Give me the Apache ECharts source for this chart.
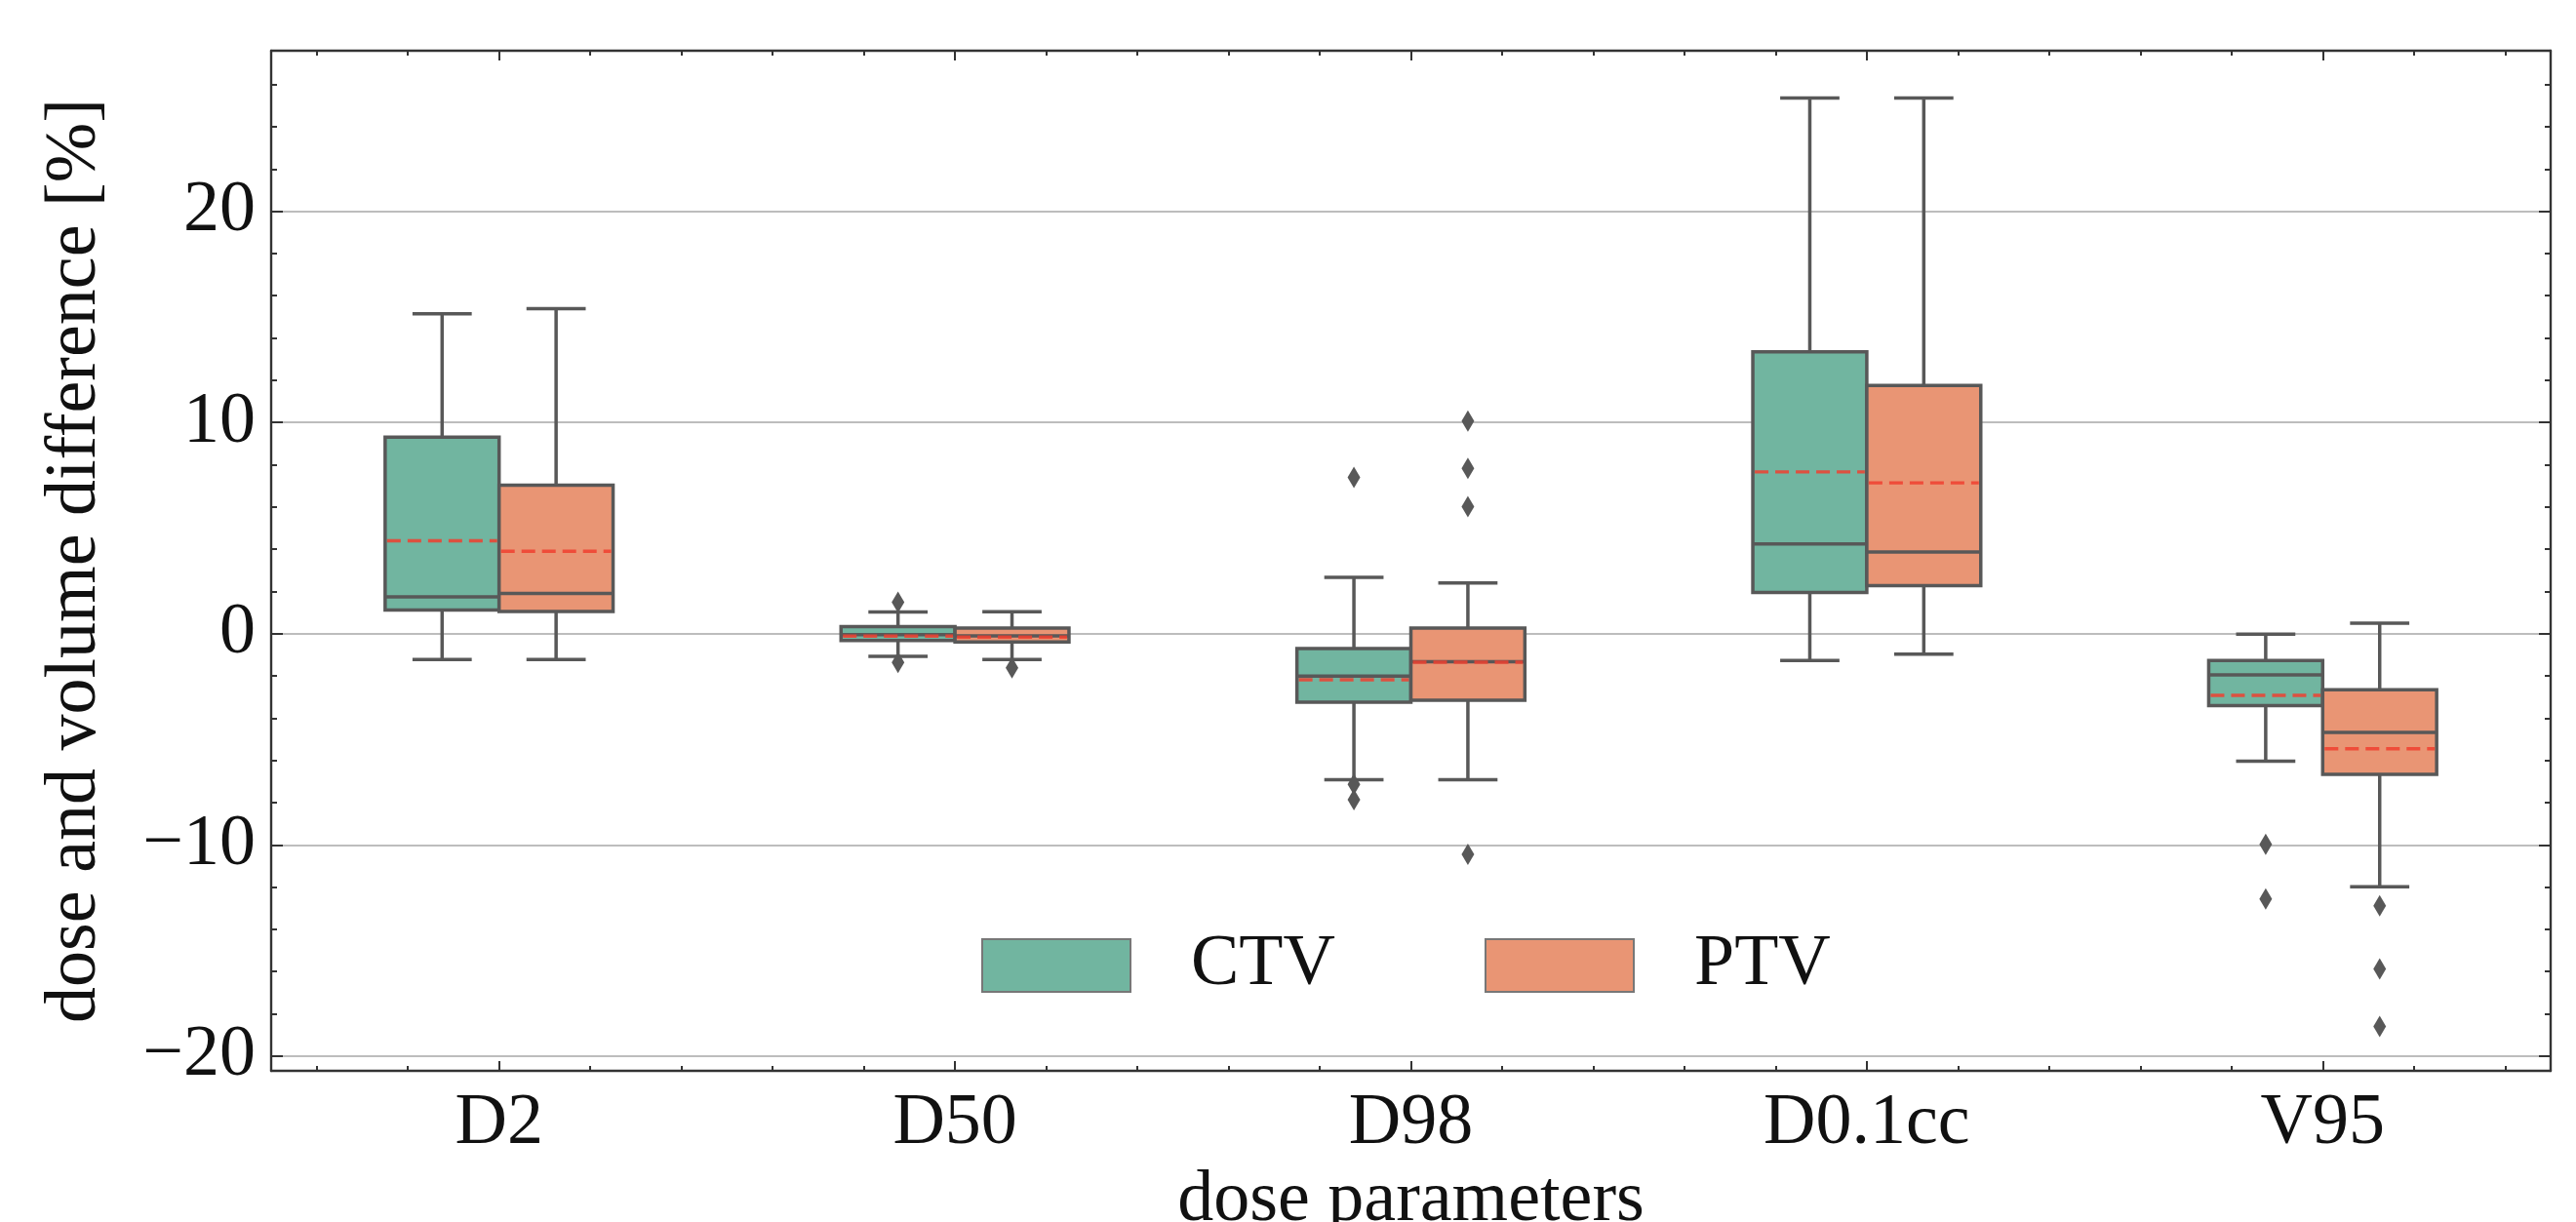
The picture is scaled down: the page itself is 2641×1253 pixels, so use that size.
<!DOCTYPE html>
<html>
<head>
<meta charset="utf-8">
<script src="https://cdn.jsdelivr.net/npm/echarts@6/dist/echarts.min.js"></script>
<style>html,body{margin:0;padding:0;background:#fff}</style>
</head>
<body>
<div id="chart" style="width:2641px;height:1253px"></div>
<script>
var categories = ['D2', 'D50', 'D98', 'D0.1cc', 'V95'];
// [lower whisker, Q1, median, Q3, upper whisker]
var ctvBox = [
  [-1.23, 1.12, 1.74, 9.30, 15.14],
  [-1.07, -0.33, -0.05, 0.33, 1.03],
  [-6.92, -3.25, -2.01, -0.71, 2.66],
  [-1.27, 1.95, 4.25, 13.34, 25.36],
  [-6.04, -3.41, -1.95, -1.27, -0.03]
];
var ptvBox = [
  [-1.23, 1.05, 1.90, 7.03, 15.39],
  [-1.23, -0.39, -0.10, 0.26, 1.04],
  [-6.92, -3.15, -1.33, 0.26, 2.40],
  [-0.97, 2.27, 3.86, 11.75, 25.36],
  [-11.98, -6.66, -4.68, -2.66, 0.49]
];
var ctvMean = [4.40, -0.12, -2.18, 7.66, -2.92];
var ptvMean = [3.90, -0.16, -1.35, 7.14, -5.45];
var ctvOutliers = [[], [1.49, -1.36], [7.40, -7.14, -7.86], [], [-9.97, -12.56]];
var ptvOutliers = [[], [-1.62], [10.06, 7.82, 6.01, -10.45], [], [-12.89, -15.88, -18.6]];

var yMajor = [-20, -10, 0, 10, 20];
var yMinor = [-18, -16, -14, -12, -8, -6, -4, -2, 2, 4, 6, 8, 12, 14, 16, 18, 22, 24, 26];
var xMajor = [0, 1, 2, 3, 4];
var xMinor = [-0.4, -0.2, 0.2, 0.4, 0.6, 0.8, 1.2, 1.4, 1.6, 1.8, 2.2, 2.4, 2.6, 2.8,
              3.2, 3.4, 3.6, 3.8, 4.2, 4.4];

var font = 'Liberation Serif';
var ctvColor = '#71b5a0';
var ptvColor = '#e99574';
var lineColor = '#585858';
var spine = '#333333';
var boxW = 0.25, capW = 0.52, shift = 0.125;

function lineStyle() { return {stroke: lineColor, lineWidth: 3.5}; }

function renderBox(params, api) {
  var x = api.value(0);
  var cx = api.coord([x, 0])[0];
  var w = api.size([boxW, 0])[0];
  var y = function (i) { return api.coord([x, api.value(i)])[1]; };
  var lo = y(1), q1 = y(2), md = y(3), q3 = y(4), hi = y(5), mn = y(6);
  var cw = w * capW / 2;
  return {type: 'group', children: [
    {type: 'line', shape: {x1: cx, y1: q1, x2: cx, y2: lo}, style: lineStyle()},
    {type: 'line', shape: {x1: cx, y1: q3, x2: cx, y2: hi}, style: lineStyle()},
    {type: 'line', shape: {x1: cx - cw, y1: lo, x2: cx + cw, y2: lo}, style: lineStyle()},
    {type: 'line', shape: {x1: cx - cw, y1: hi, x2: cx + cw, y2: hi}, style: lineStyle()},
    {type: 'rect', shape: {x: cx - w / 2, y: q3, width: w, height: q1 - q3},
      style: {fill: api.visual('color'), stroke: lineColor, lineWidth: 3.5}},
    {type: 'line', shape: {x1: cx - w / 2, y1: md, x2: cx + w / 2, y2: md}, style: lineStyle()},
    {type: 'line', shape: {x1: cx - w / 2 + 2, y1: mn, x2: cx + w / 2 - 2, y2: mn},
      style: {stroke: '#f0402f', opacity: 0.85, lineWidth: 3.4, lineDash: [14, 7]}}
  ]};
}

function boxData(boxes, means, off) {
  return boxes.map(function (b, i) { return [i + off, b[0], b[1], b[2], b[3], b[4], means[i]]; });
}
function outlierData(list, off) {
  var pts = [];
  list.forEach(function (arr, i) { arr.forEach(function (v) { pts.push([i + off, v]); }); });
  return pts;
}

function xAxisDef(pos, ticks, len, main) {
  return {
    type: 'value', position: pos, min: -0.5, max: 4.5,
    axisLine: {show: main, onZero: false, lineStyle: {color: spine, width: 2.4}},
    axisTick: {show: true, inside: true, length: len, customValues: ticks,
      lineStyle: {color: spine, width: 2}},
    axisLabel: {show: false},
    splitLine: {show: false}
  };
}
function yAxisDef(pos, ticks, len, main) {
  return {
    type: 'value', position: pos, min: -20.7, max: 27.6,
    axisLine: {show: main, onZero: false, lineStyle: {color: spine, width: 2.4}},
    axisTick: {show: true, inside: true, length: len, customValues: ticks,
      lineStyle: {color: spine, width: 2}},
    axisLabel: {show: false},
    splitLine: {show: false}
  };
}

var xBottom = xAxisDef('bottom', xMajor, 10, true);
xBottom.axisLabel = {show: true, customValues: xMajor, margin: 18, fontFamily: font, fontSize: 74,
  color: '#111', formatter: function (v) { return categories[Math.round(v)]; }};
xBottom.name = 'dose parameters';
xBottom.nameLocation = 'middle';
xBottom.nameGap = 92;
xBottom.nameTextStyle = {fontFamily: font, fontSize: 74, color: '#111'};

var yLeft = yAxisDef('left', yMajor, 12, true);
yLeft.axisLabel = {show: true, customValues: yMajor, margin: 16, fontFamily: font, fontSize: 74,
  color: '#111', formatter: function (v) { return v < 0 ? '\u2212' + Math.abs(v) : String(v); }};
yLeft.splitLine = {show: true, lineStyle: {color: '#bdbdbd', width: 1.8}};
yLeft.name = 'dose and volume difference [%]';
yLeft.nameLocation = 'middle';
yLeft.nameGap = 163;
yLeft.nameTextStyle = {fontFamily: font, fontSize: 74, color: '#111'};

var chart = echarts.init(document.getElementById('chart'));
chart.setOption({
  animation: false,
  backgroundColor: '#fff',
  grid: {left: 278, top: 52, right: 26, bottom: 155, containLabel: false, outerBoundsMode: 'none'},
  legend: {
    left: 1001, top: 948, selectedMode: false,
    itemWidth: 152, itemHeight: 54, itemGap: 153,
    textStyle: {fontFamily: font, fontSize: 74, color: '#111', padding: [0, 0, 0, 57]},
    data: [
      {name: 'CTV', icon: 'rect', itemStyle: {color: ctvColor, borderColor: '#777', borderWidth: 2}},
      {name: 'PTV', icon: 'rect', itemStyle: {color: ptvColor, borderColor: '#777', borderWidth: 2}}
    ]
  },
  xAxis: [
    xBottom,
    xAxisDef('bottom', xMinor, 5, false),
    xAxisDef('top', xMajor, 10, true),
    xAxisDef('top', xMinor, 5, false)
  ],
  yAxis: [
    yLeft,
    yAxisDef('left', yMinor, 6, false),
    yAxisDef('right', yMajor, 12, true),
    yAxisDef('right', yMinor, 6, false)
  ],
  series: [
    {name: 'CTV', type: 'custom', xAxisIndex: 0, yAxisIndex: 0, itemStyle: {color: ctvColor},
      renderItem: renderBox, encode: {x: 0, y: [1, 2, 3, 4, 5, 6]}, data: boxData(ctvBox, ctvMean, -shift)},
    {name: 'PTV', type: 'custom', xAxisIndex: 0, yAxisIndex: 0, itemStyle: {color: ptvColor},
      renderItem: renderBox, encode: {x: 0, y: [1, 2, 3, 4, 5, 6]}, data: boxData(ptvBox, ptvMean, shift)},
    {name: 'CTV outliers', type: 'scatter', xAxisIndex: 0, yAxisIndex: 0, symbol: 'diamond',
      symbolSize: [13, 22], itemStyle: {color: lineColor, opacity: 1}, data: outlierData(ctvOutliers, -shift)},
    {name: 'PTV outliers', type: 'scatter', xAxisIndex: 0, yAxisIndex: 0, symbol: 'diamond',
      symbolSize: [13, 22], itemStyle: {color: lineColor, opacity: 1}, data: outlierData(ptvOutliers, shift)}
  ]
});
</script>
</body>
</html>
